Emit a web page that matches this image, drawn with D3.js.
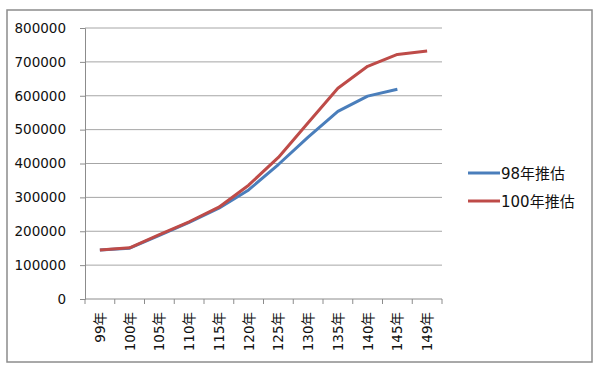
<!DOCTYPE html>
<html>
<head>
<meta charset="utf-8">
<script src="https://cdn.jsdelivr.net/npm/d3@7"></script>
<style>
  body { margin: 0; background: #fff; }
  text { font-family: "DejaVu Sans", "Noto Sans CJK TC", sans-serif; fill: #111; }
</style>
</head>
<body>
<svg width="600" height="369"></svg>
<script>
// data
var years = ["99年", "100年", "105年", "110年", "115年", "120年", "125年", "130年", "135年", "140年", "145年", "149年"];
var est98 = [145000, 150000, 188000, 226000, 268000, 322000, 397000, 478000, 554000, 599000, 619000];
var est100 = [145000, 151000, 190000, 228000, 271000, 336000, 418000, 520000, 622000, 687000, 722000, 732000];
var seriesNames = ["98年推估", "100年推估"];
var seriesColors = ["#4a7ebb", "#be4b48"];
var yTicks = [0, 100000, 200000, 300000, 400000, 500000, 600000, 700000, 800000];

var svg = d3.select('svg');

// outer frame
svg.append('rect')
    .attr('x', 7).attr('y', 10)
    .attr('width', 585).attr('height', 352)
    .attr('fill', 'none')
    .attr('stroke', '#8c8c8c')
    .attr('stroke-width', 1.5);

var marginLeft = 85, marginTop = 28, plotW = 357, plotH = 271;

var x = d3.scaleBand().domain(years).range([0, plotW]);
var y = d3.scaleLinear().domain([0, 800000]).range([plotH, 0]);

var g = svg.append('g').attr('transform', 'translate(' + marginLeft + ',' + marginTop + ')');

// gridlines
g.selectAll('line.grid')
    .data(yTicks.slice(1))
    .enter()
    .append('line')
    .attr('class', 'grid')
    .attr('x1', 0).attr('x2', plotW)
    .attr('y1', function (d) { return y(d); })
    .attr('y2', function (d) { return y(d); })
    .attr('stroke', '#a6a6a6')
    .attr('stroke-width', 1);

// y axis
var yAxis = g.append('g')
    .call(d3.axisLeft(y).tickValues(yTicks).tickSize(5).tickPadding(14).tickFormat(d3.format('d')));
yAxis.select('.domain').attr('stroke', '#8c8c8c');
yAxis.selectAll('line').attr('stroke', '#8c8c8c');
yAxis.selectAll('text').style('font-size', '13.5px').attr('fill', '#111');

// x axis: ticks at band boundaries
var xAxisG = g.append('g').attr('transform', 'translate(0,' + plotH + ')');
xAxisG.append('line')
    .attr('x1', 0).attr('x2', plotW)
    .attr('stroke', '#8c8c8c');
var bounds = d3.range(years.length + 1);
xAxisG.selectAll('line.tick')
    .data(bounds)
    .enter()
    .append('line')
    .attr('class', 'tick')
    .attr('x1', function (i) { return i * x.step(); })
    .attr('x2', function (i) { return i * x.step(); })
    .attr('y1', 0).attr('y2', 5)
    .attr('stroke', '#8c8c8c');
xAxisG.selectAll('text')
    .data(years)
    .enter()
    .append('text')
    .attr('transform', function (d) {
        return 'translate(' + (x(d) + x.bandwidth() / 2 + 5) + ',13) rotate(-90)';
    })
    .attr('text-anchor', 'end')
    .style('font-size', '13.5px')
    .text(function (d) { return d; });

// lines
var line = d3.line()
    .x(function (d, i) { return x(years[i]) + x.bandwidth() / 2; })
    .y(function (d) { return y(d); });

[est98, est100].forEach(function (s, k) {
    g.append('path')
        .datum(s)
        .attr('d', line)
        .attr('fill', 'none')
        .attr('stroke', seriesColors[k])
        .attr('stroke-width', 3)
        .attr('stroke-linejoin', 'round');
});

// legend
var legend = svg.append('g').attr('transform', 'translate(468,173)');
seriesNames.forEach(function (name, k) {
    var row = legend.append('g').attr('transform', 'translate(0,' + (k * 28) + ')');
    row.append('line')
        .attr('x1', 0).attr('x2', 32)
        .attr('stroke', seriesColors[k])
        .attr('stroke-width', 3);
    row.append('text')
        .attr('x', 33).attr('y', 5.5)
        .style('font-size', '15px')
        .text(name);
});
</script>
</body>
</html>
